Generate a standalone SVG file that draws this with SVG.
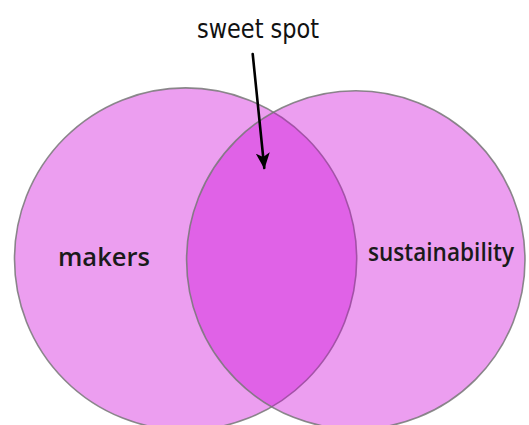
<svg xmlns="http://www.w3.org/2000/svg" width="529" height="425" viewBox="0 0 529 425">
  <style>
    .set { fill: #cd00d7; fill-opacity: 0.38; stroke: #777777; stroke-opacity: 0.85; stroke-width: 1.6; }
    .label { font-family: "Open Sans", "Liberation Sans", sans-serif; font-size: 25px; font-weight: 600; fill: #1a1a1a; }
    .note { font-family: "DejaVu Sans Condensed", "Liberation Sans Narrow", "DejaVu Sans", sans-serif; font-size: 27px; fill: #111111; }
    .pointer { stroke: #000000; stroke-width: 2.6; fill: none; stroke-linecap: round; }
  </style>
  <defs>
    <marker id="arrowhead" viewBox="0 0 16 14" refX="15" refY="7" markerWidth="16" markerHeight="14" markerUnits="userSpaceOnUse" orient="auto">
      <path d="M0,0 L16,7 L0,14 L4,7 Z" fill="#000000"/>
    </marker>
  </defs>

  <rect width="529" height="425" fill="#ffffff"/>

  <g id="makers">
    <circle class="set" cx="185.6" cy="259" r="171.1"/>
    <text class="label" x="58" y="266" textLength="92" lengthAdjust="spacingAndGlyphs">makers</text>
  </g>

  <g id="sustainability">
    <circle class="set" cx="355.8" cy="260" r="169.2"/>
    <text class="label" x="368" y="261" font-size="24" textLength="146" lengthAdjust="spacingAndGlyphs">sustainability</text>
  </g>

  <g id="sweet-spot">
    <text class="note" x="197" y="38" textLength="122" lengthAdjust="spacingAndGlyphs">sweet spot</text>
  </g>

  <g id="connectors">
    <line class="pointer" x1="252.7" y1="54" x2="264.3" y2="168" marker-end="url(#arrowhead)"/>
  </g>
</svg>
